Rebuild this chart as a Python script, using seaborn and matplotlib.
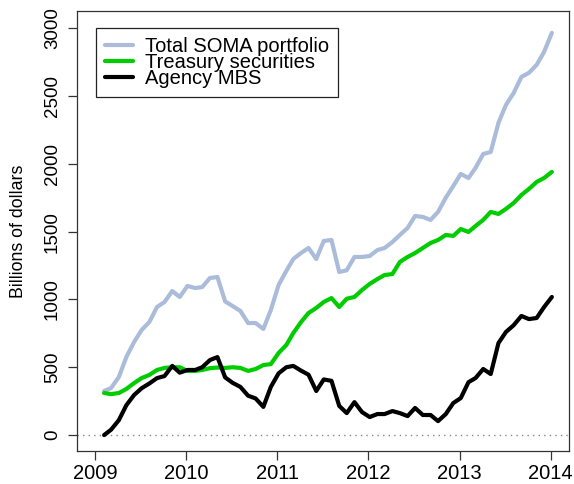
import pandas as pd
import matplotlib
matplotlib.use("Agg")
import matplotlib.pyplot as plt
import seaborn as sns

# monthly SOMA holdings, billions of dollars (Feb 2009 - Jan 2014)
dates = pd.date_range("2009-02-01", periods=60, freq="MS") + pd.Timedelta(days=5)

soma_total = [325, 347, 428, 575, 686, 774, 833, 944, 981, 1062,
              1018, 1099, 1084, 1091, 1158, 1165, 985, 951, 915, 826,
              826, 782, 922, 1106, 1210, 1298, 1342, 1379, 1298, 1431,
              1438, 1202, 1215, 1313, 1313, 1320, 1364, 1379, 1423, 1475,
              1527, 1615, 1608, 1586, 1645, 1750, 1836, 1925, 1895, 1969,
              2072, 2087, 2301, 2434, 2522, 2640, 2670, 2729, 2825, 2965]
treasury = [310, 302, 310, 340, 383, 420, 443, 480, 495, 500,
            500, 473, 473, 480, 493, 498, 495, 500, 495, 473,
            487, 516, 523, 605, 664, 752, 833, 900, 937, 981,
            1010, 944, 1005, 1018, 1069, 1114, 1150, 1180, 1187, 1276,
            1313, 1342, 1379, 1416, 1438, 1475, 1468, 1519, 1497, 1541,
            1586, 1645, 1630, 1667, 1711, 1770, 1814, 1866, 1895, 1940]
agency_mbs = [0, 40, 110, 220, 295, 345, 380, 420, 435, 510,
              460, 480, 480, 500, 553, 575, 425, 385, 355, 290,
              270, 208, 355, 455, 500, 510, 475, 445, 325, 410,
              400, 215, 162, 243, 170, 133, 155, 155, 177, 162,
              140, 200, 148, 148, 103, 155, 236, 273, 390, 420,
              487, 450, 678, 760, 810, 878, 855, 863, 944, 1018]

series_names = ["Total SOMA portfolio", "Treasury securities", "Agency MBS"]
series_colors = ["#aabcd9", "#00cc00", "#000000"]

# decimal years for the x axis
year_frac = dates.year + (dates.dayofyear - 1) / 365.0

df = pd.DataFrame({
    "year": year_frac,
    series_names[0]: soma_total,
    series_names[1]: treasury,
    series_names[2]: agency_mbs,
})
long_df = df.melt(id_vars="year", var_name="series", value_name="value")

sns.set_style("ticks")
plt.rcParams["font.family"] = ["Liberation Sans", "DejaVu Sans"]
plt.rcParams["text.color"] = "black"
plt.rcParams["axes.labelcolor"] = "black"
plt.rcParams["xtick.color"] = "black"
plt.rcParams["ytick.color"] = "black"

fig = plt.figure(figsize=(5.74, 4.84), dpi=100)
ax = fig.add_axes([0.134, 0.068, 0.857, 0.909])

ax.axhline(0, color="#888888", linestyle=(0, (1, 3)), linewidth=1, zorder=1)
sns.lineplot(data=long_df, x="year", y="value", hue="series",
             hue_order=series_names, palette=series_colors,
             linewidth=3, ax=ax, legend=False, zorder=3)

ax.set_xlim(2008.8, 2014.2)
ax.set_ylim(-118, 3125)
ax.set_xticks(range(2009, 2015))
ax.set_yticks(range(0, 3001, 500))
ax.set_xlabel("")
ax.set_ylabel("Billions of dollars", fontsize=12.8, labelpad=12)

for sp in ax.spines.values():
    sp.set_visible(True)
    sp.set_color("#333333")
    sp.set_linewidth(0.9)

ax.tick_params(axis="both", length=6.5, width=0.9, color="#333333",
               direction="out")
ax.tick_params(axis="x", pad=3, labelsize=14.5)
ax.tick_params(axis="y", pad=5, labelsize=13.5)
for lab in ax.get_yticklabels():
    lab.set_rotation(90)
    lab.set_va("center")

handles = [plt.Line2D([], [], color=c, linewidth=3) for c in series_colors]
leg = ax.legend(handles, series_names, loc="upper left",
                bbox_to_anchor=(0.0386, 0.961), fontsize=14.5,
                frameon=True, fancybox=False, edgecolor="#222222",
                framealpha=1, borderpad=0.45, handlelength=1.4,
                handletextpad=0.6, labelspacing=-0.15, borderaxespad=0)
leg.get_frame().set_linewidth(0.9)

fig.savefig("out.png", dpi=100)
